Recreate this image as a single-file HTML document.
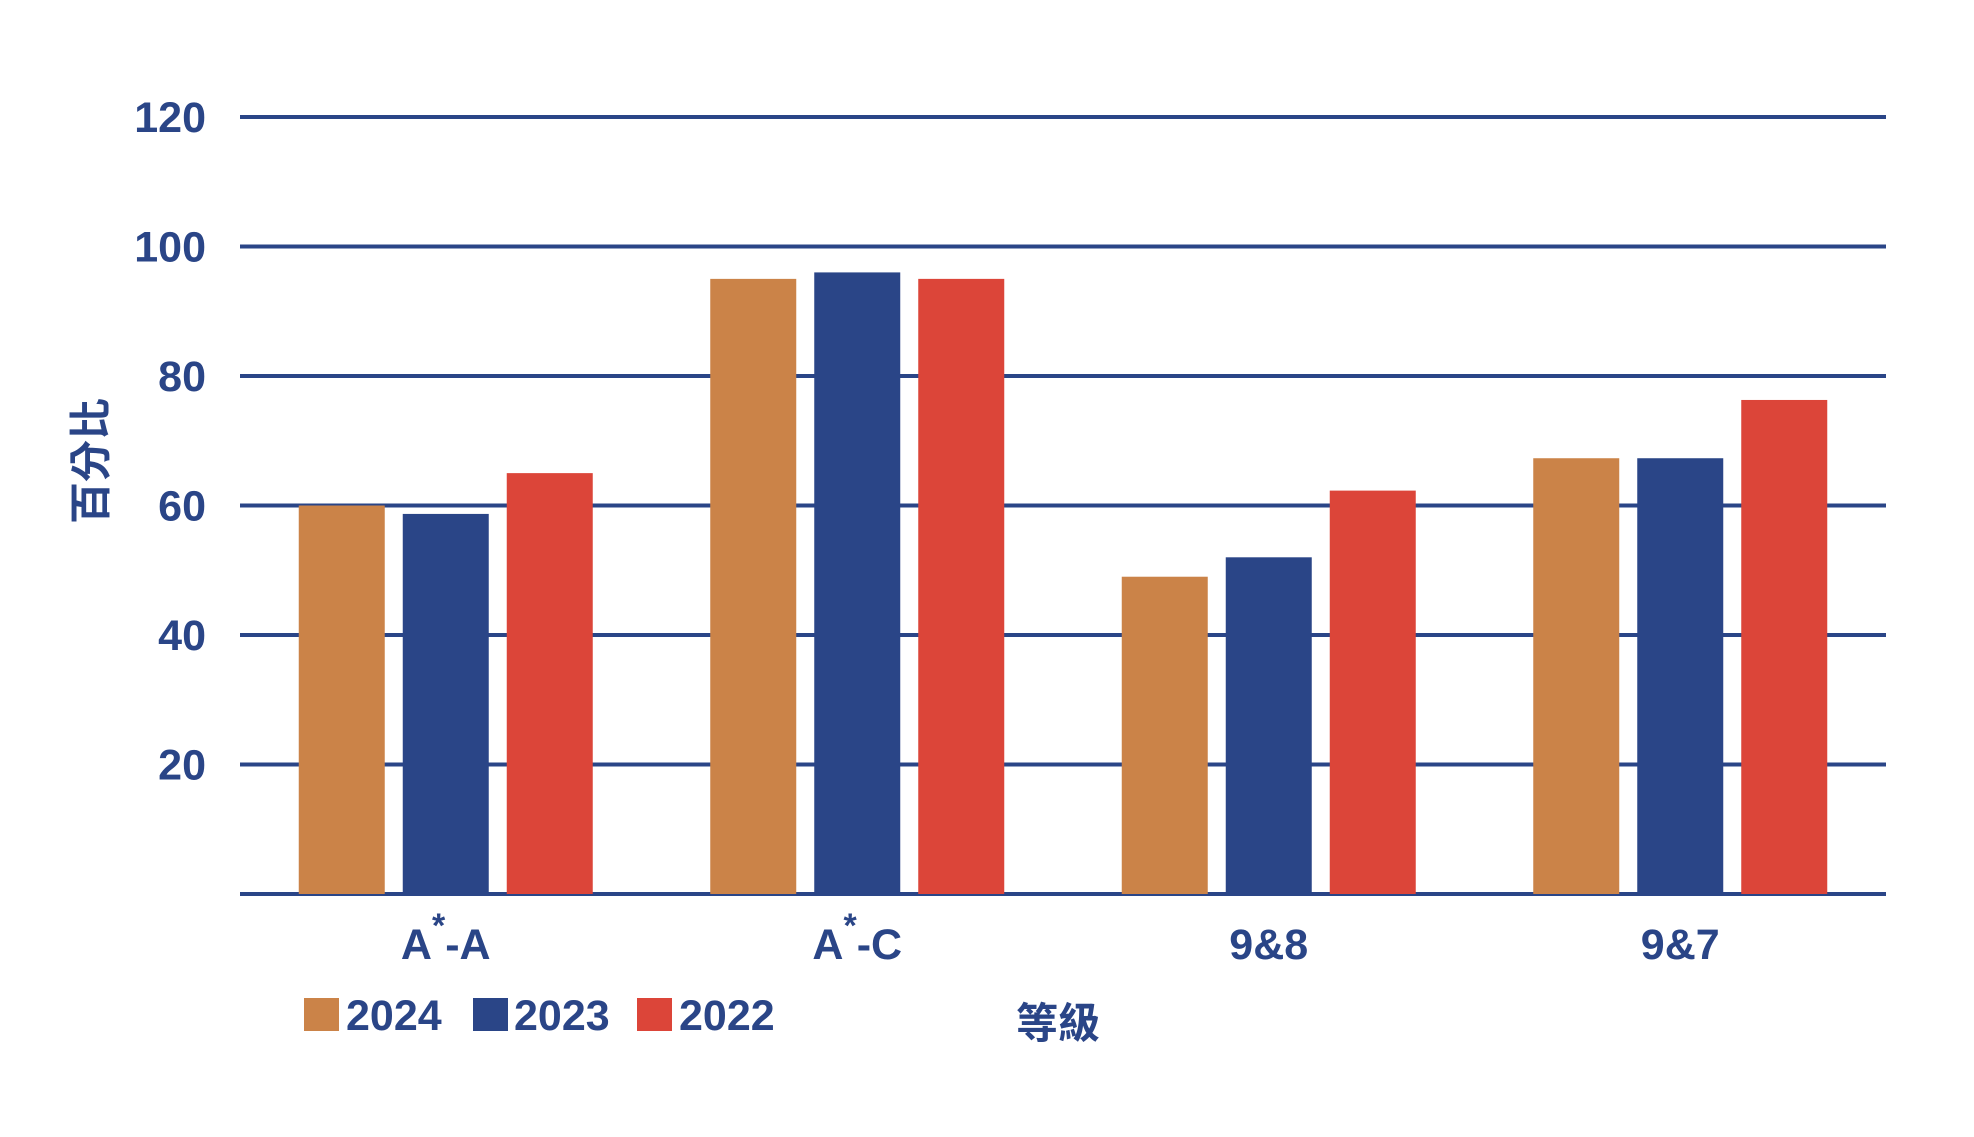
<!DOCTYPE html>
<html><head><meta charset="utf-8"><style>
html,body{margin:0;padding:0;background:#fff;}
svg text{font-family:"Liberation Sans","Noto Sans CJK TC",sans-serif;font-weight:bold;fill:#2A4587;}
</style></head><body>
<svg id="chart" width="1974" height="1132" viewBox="0 0 1974 1132" xmlns="http://www.w3.org/2000/svg">
<g id="grid"></g>
<g id="yticks"></g>
<g id="bars"></g>
<g id="xticks"></g>
<text x="91" y="461" font-size="42" text-anchor="middle" dominant-baseline="central" transform="rotate(-90 91 461)">百分比</text>
<text x="1058" y="1038" font-size="42" text-anchor="middle">等級</text>
<g>
  <rect x="304" y="998" width="35" height="33" fill="#CB8348"/>
  <text x="346" y="1030" font-size="43">2024</text>
  <rect x="473" y="998" width="35" height="33" fill="#2A4587"/>
  <text x="514" y="1030" font-size="43">2023</text>
  <rect x="637" y="998" width="35" height="33" fill="#DC4539"/>
  <text x="679" y="1030" font-size="43">2022</text>
</g>
</svg>
<script>
const categories = ["A*-A", "A*-C", "9&8", "9&7"];
const series2024 = [60, 95, 49, 67.3];
const series2023 = [58.7, 96, 52, 67.3];
const series2022 = [65, 95, 62.3, 76.3];
const yTicks = [20, 40, 60, 80, 100, 120];

const NS = "http://www.w3.org/2000/svg";
const left = 240, right = 1886, y0 = 894, yTop = 117, yMax = 120;
const y = v => y0 - (v / yMax) * (y0 - yTop);
const band = (right - left) / categories.length;
const xc = i => left + band * (i + 0.5);
const barW = 86, step = 104;
const colors = ["#CB8348", "#2A4587", "#DC4539"];
const seriesList = [series2024, series2023, series2022];
const seriesNames = ["2024", "2023", "2022"];

function mk(tag, attrs, parent) {
  const el = document.createElementNS(NS, tag);
  for (const k in attrs) el.setAttribute(k, attrs[k]);
  parent.appendChild(el);
  return el;
}
const grid = document.getElementById("grid");
const yt = document.getElementById("yticks");
[0].concat(yTicks).forEach(t => {
  const l = mk("line", {x1: left, x2: right, y1: y(t), y2: y(t), stroke: "#2A4587", "stroke-width": 4}, grid);
  
  
});
yTicks.forEach(t => {
  const tx = mk("text", {x: 206, y: y(t) + 15, "font-size": 43, "text-anchor": "end"}, yt);
  tx.textContent = t;
  
  
});
const bars = document.getElementById("bars");
categories.forEach((c, i) => {
  seriesList.forEach((s, j) => {
    const x = xc(i) + (j - 1) * step - barW / 2;
    const r = mk("rect", {x: x, y: y(s[i]), width: barW, height: y0 - y(s[i]), fill: colors[j]}, bars);
    
    
  });
});
const xt = document.getElementById("xticks");
categories.forEach((c, i) => {
  const tx = mk("text", {x: xc(i), y: 959, "font-size": 43, "text-anchor": "middle"}, xt);
  
  
  if (c.indexOf("*") >= 0) {
    const parts = c.split("*");
    const a = mk("tspan", {}, tx); a.textContent = parts[0];
    const s = mk("tspan", {dy: -22, "font-size": 34}, tx); s.textContent = "*";
    const b = mk("tspan", {dy: 22}, tx); b.textContent = parts[1];
  } else {
    tx.textContent = c;
  }
});
</script>
</body></html>
